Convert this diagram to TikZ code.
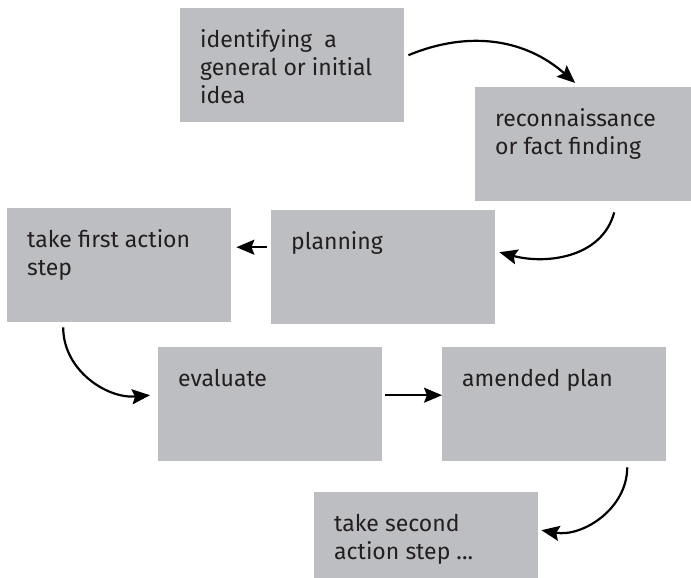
\documentclass[tikz,border=0pt]{standalone}
\usepackage{fontspec}
\setmainfont{Fira Sans}
\usetikzlibrary{arrows.meta}

\definecolor{stagegray}{HTML}{BDBEC2}
\definecolor{inkgray}{HTML}{231F20}
\newcommand{\stagetext}[1]{\parbox[t][74pt][t]{184pt}{\raggedright\strut#1}}

\begin{document}
\begin{tikzpicture}[x=1pt, y=1pt,
        stage/.style={fill=stagegray, text=inkgray, anchor=north west,
            inner xsep=20pt, inner ysep=20pt, font=\fontsize{23}{28}\selectfont},
        flow/.style={line width=2.2pt, -{Stealth[length=18pt, width=15pt, inset=3pt]}}]
        \useasboundingbox (0,0) rectangle (691,-578);

        \node[stage] (idea)   at (180,-8)   {\stagetext{identifying\ \ a\\general or initial\\idea}};
        \node[stage] (recon)  at (475,-87)  {\stagetext{reconnaissance\\or fact finding}};
        \node[stage] (plan)   at (271,-210) {\stagetext{planning}};
        \node[stage] (first)  at (7,-208)   {\stagetext{take first action\\step}};
        \node[stage] (eval)   at (158,-347) {\stagetext{evaluate}};
        \node[stage] (amend)  at (442,-347) {\stagetext{amended plan}};
        \node[stage] (second) at (314,-492) {\stagetext{take second\\action step ...}};

        \draw[flow] ([shift={(4,10)}]idea.east) to[bend left=32] ([shift={(-12,4)}]recon.north);
        \draw[flow] ([shift={(27,-11)}]recon.south) to[out=-105, in=-15] ([shift={(4,15)}]plan.east);
        \draw[flow] ([shift={(-4,20)}]plan.west) coordinate (p) -- ([xshift=5]first.east |- p);
        \draw[flow] ([shift={(-56,-5)}]first.south) to[out=-90, in=185] ([shift={(-8,9)}]eval.west);
        \draw[flow] ([shift={(3,9)}]eval.east) coordinate (q) -- (amend.west |- q);
        \draw[flow] ([shift={(73,-6)}]amend.south) to[out=-90, in=-10] ([shift={(3,19)}]second.east);
    \end{tikzpicture}
\end{document}
